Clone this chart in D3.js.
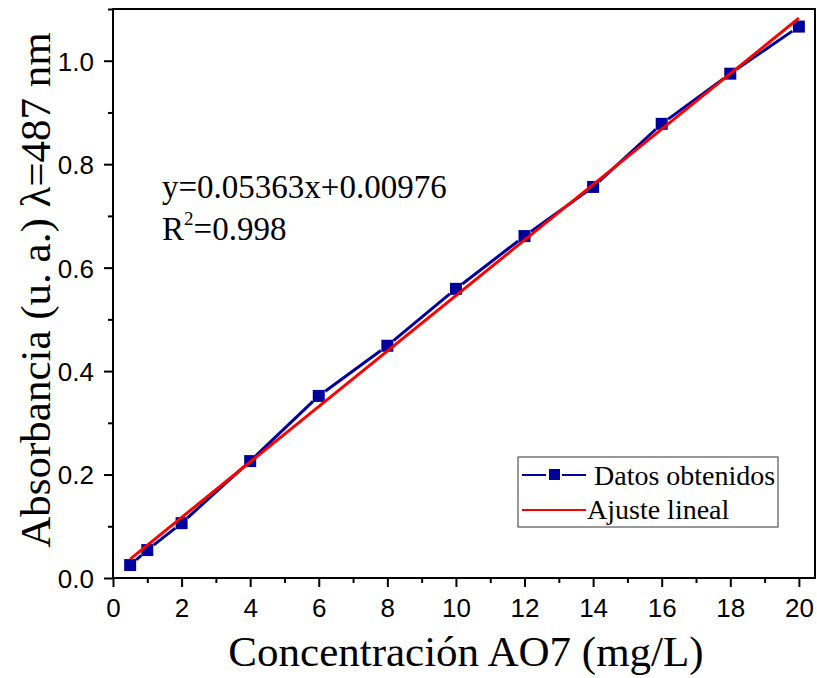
<!DOCTYPE html>
<html><head><meta charset="utf-8">
<script src="https://cdn.jsdelivr.net/npm/d3@7"></script>
<style>body{margin:0;background:#fff}svg{display:block}</style>
</head><body>
<svg id="c" width="817" height="678"></svg>
<script>
const concentration = [0.5, 1, 2, 4, 6, 8, 10, 12, 14, 16, 18, 20];
const absorbance = [0.025, 0.054, 0.106, 0.226, 0.352, 0.449, 0.559, 0.661, 0.756, 0.878, 0.975, 1.066];
const fitSlope = 0.05363, fitIntercept = 0.00976;
const fitRange = [0.5, 20];
const xTicks = [0,2,4,6,8,10,12,14,16,18,20];
const yTicks = [0.0,0.2,0.4,0.6,0.8,1.0];
const xMinor = [1,3,5,7,9,11,13,15,17,19];
const yMinor = [0.1,0.3,0.5,0.7,0.9,1.1];

const svg = d3.select('#c');
const L = 113, R = 815, T = 9, B = 578;
const x = d3.scaleLinear().domain([0, 20.47]).range([L, R]);
const y = d3.scaleLinear().domain([0, 1.1]).range([B, T]);
const blue = '#00009C', red = '#FF0000';
const sans = "'Liberation Sans', Arial, sans-serif";
const serif = "'Liberation Serif', 'Times New Roman', serif";

// frame
svg.append('rect').attr('x', L).attr('y', T).attr('width', R - L).attr('height', B - T)
  .attr('fill', 'none').attr('stroke', '#000').attr('stroke-width', 2);

// axes
const xa = svg.append('g').attr('transform', `translate(0,${B})`)
  .call(d3.axisBottom(x).tickValues(xTicks).tickFormat(d3.format('d')).tickSize(9).tickSizeOuter(0));
const xm = svg.append('g').attr('transform', `translate(0,${B})`)
  .call(d3.axisBottom(x).tickValues(xMinor).tickFormat('').tickSize(5).tickSizeOuter(0));
const ya = svg.append('g').attr('transform', `translate(${L},0)`)
  .call(d3.axisLeft(y).tickValues(yTicks).tickFormat(d3.format('.1f')).tickSize(9).tickSizeOuter(0));
const ym = svg.append('g').attr('transform', `translate(${L},0)`)
  .call(d3.axisLeft(y).tickValues(yMinor).tickFormat('').tickSize(5).tickSizeOuter(0));
[xa, xm, ya, ym].forEach(g => {
  g.select('.domain').remove();
  g.selectAll('line').attr('stroke', '#000').attr('stroke-width', 2);
  g.selectAll('text').attr('font-family', sans).attr('font-size', 26).attr('fill', '#000');
});
xa.selectAll('text').attr('dy', null).attr('y', 39);
ya.selectAll('text').attr('x', -19).attr('dy', '0.36em');

// data line with gaps around markers
const pts = concentration.map((c, i) => [x(c), y(absorbance[i])]);
const gap = 8;
const segs = [];
for (let i = 0; i < pts.length - 1; i++) {
  const [x1, y1] = pts[i], [x2, y2] = pts[i + 1];
  const len = Math.hypot(x2 - x1, y2 - y1);
  if (len <= 2 * gap) continue;
  const ux = (x2 - x1) / len, uy = (y2 - y1) / len;
  segs.push([x1 + ux * gap, y1 + uy * gap, x2 - ux * gap, y2 - uy * gap]);
}
svg.append('g').selectAll('line').data(segs).join('line')
  .attr('x1', d => d[0]).attr('y1', d => d[1]).attr('x2', d => d[2]).attr('y2', d => d[3])
  .attr('stroke', blue).attr('stroke-width', 3);

// markers
const ms = 12;
svg.append('g').selectAll('rect').data(concentration).join('rect')
  .attr('x', (d) => x(d) - ms / 2).attr('y', (d, i) => y(absorbance[i]) - ms / 2)
  .attr('width', ms).attr('height', ms).attr('fill', blue);

// fit line
svg.append('line')
  .attr('x1', x(fitRange[0])).attr('y1', y(fitSlope * fitRange[0] + fitIntercept))
  .attr('x2', x(fitRange[1])).attr('y2', y(fitSlope * fitRange[1] + fitIntercept))
  .attr('stroke', red).attr('stroke-width', 3);

// annotation
svg.append('text').attr('x', 162).attr('y', 198).attr('font-family', serif).attr('font-size', 33)
  .text('y=0.05363x+0.00976');
const r2 = svg.append('text').attr('x', 162).attr('y', 240).attr('font-family', serif).attr('font-size', 33);
r2.append('tspan').text('R');
r2.append('tspan').attr('font-size', 19).attr('dy', -15).text('2');
r2.append('tspan').attr('dy', 15).text('=0.998');

// legend
const lg = svg.append('g');
lg.append('rect').attr('x', 518).attr('y', 457).attr('width', 260).attr('height', 70)
  .attr('fill', '#fff').attr('stroke', '#333').attr('stroke-width', 1);
lg.append('line').attr('x1', 522).attr('x2', 546).attr('y1', 475).attr('y2', 475).attr('stroke', blue).attr('stroke-width', 2);
lg.append('line').attr('x1', 562).attr('x2', 586).attr('y1', 475).attr('y2', 475).attr('stroke', blue).attr('stroke-width', 2);
lg.append('rect').attr('x', 549).attr('y', 469).attr('width', 11).attr('height', 11).attr('fill', blue);
lg.append('text').attr('x', 594).attr('y', 485).attr('font-family', serif).attr('font-size', 28).text('Datos obtenidos');
lg.append('line').attr('x1', 522).attr('x2', 586).attr('y1', 510).attr('y2', 510).attr('stroke', red).attr('stroke-width', 2);
lg.append('text').attr('x', 587).attr('y', 519).attr('font-family', serif).attr('font-size', 28).text('Ajuste lineal');

// axis titles
svg.append('text').attr('x', 466).attr('y', 666).attr('text-anchor', 'middle')
  .attr('font-family', serif).attr('font-size', 43).text('Concentración AO7 (mg/L)');
svg.append('text').attr('transform', 'translate(50,290) rotate(-90)').attr('text-anchor', 'middle')
  .attr('font-family', serif).attr('font-size', 43).text('Absorbancia (u. a.) λ=487 nm');
</script>
</body></html>
